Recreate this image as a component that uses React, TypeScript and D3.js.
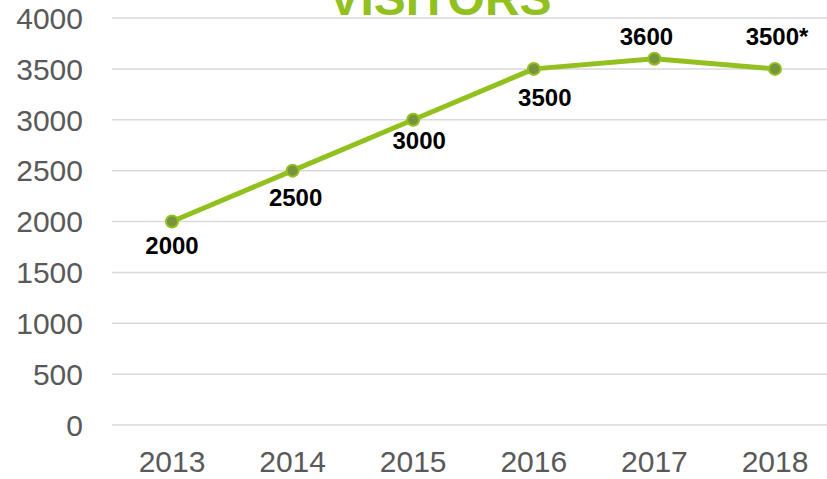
import React from "react";
import * as d3 from "d3";

const years = ["2013", "2014", "2015", "2016", "2017", "2018"];
const visitors = [2000, 2500, 3000, 3500, 3600, 3500];
const valueLabels = ["2000", "2500", "3000", "3500", "3600", "3500*"];
const yTicks = [0, 500, 1000, 1500, 2000, 2500, 3000, 3500, 4000];
// label nudges [dx, dy] relative to each point
const labelNudges: [number, number][] = [
  [0, 32],
  [3, 35],
  [6, 29],
  [11, 37],
  [-8, -14],
  [2, -24],
];

const W = 827;
const H = 479;
const GREEN = "#92C01F";
const MARKER = "#77933C";
const GRID = "#D9D9D9";
const AXIS_TEXT = "#595959";
const FONT = "'Liberation Sans', Arial, sans-serif";

export default function App() {
  const x = d3.scalePoint<string>().domain(years).range([172, 775]);
  const y = d3.scaleLinear().domain([0, 4000]).range([425, 18]);
  const line = d3
    .line<number>()
    .x((_, i) => x(years[i]) as number)
    .y((d) => y(d));

  return (
    <svg
      width={W}
      height={H}
      style={{ position: "absolute", left: 0, top: 0, background: "#fff" }}
      fontFamily={FONT}
    >
      {yTicks.map((t) => (
        <g key={t}>
          <line x1={112} x2={W} y1={y(t)} y2={y(t)} stroke={GRID} strokeWidth={1.5} />
          <text x={83} y={y(t)} dy="0.36em" textAnchor="end" fontSize={30} fill={AXIS_TEXT}>
            {t}
          </text>
        </g>
      ))}
      {years.map((yr) => (
        <text key={yr} x={x(yr)} y={472} textAnchor="middle" fontSize={30} fill={AXIS_TEXT}>
          {yr}
        </text>
      ))}
      <text x={440} y={15} textAnchor="middle" fontSize={48} fontWeight="bold" fill={GREEN}>
        VISITORS
      </text>
      <path d={line(visitors) || ""} fill="none" stroke={GREEN} strokeWidth={5} strokeLinejoin="round" />
      {visitors.map((v, i) => (
        <circle key={i} cx={x(years[i])} cy={y(v)} r={6} fill={MARKER} stroke={GREEN} strokeWidth={2} />
      ))}
      {visitors.map((v, i) => (
        <text
          key={"l" + i}
          x={(x(years[i]) as number) + labelNudges[i][0]}
          y={y(v) + labelNudges[i][1]}
          textAnchor="middle"
          fontSize={24}
          fontWeight="bold"
          fill="#000"
        >
          {valueLabels[i]}
        </text>
      ))}
    </svg>
  );
}
